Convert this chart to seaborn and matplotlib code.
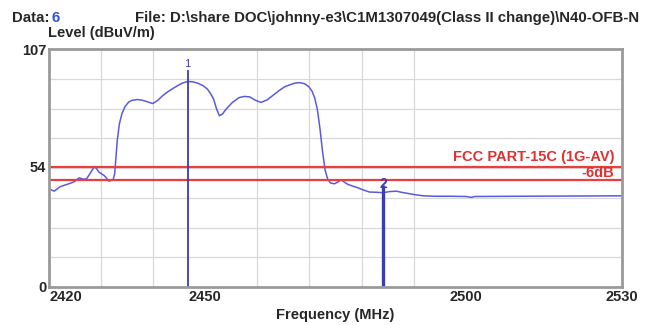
import numpy as np
import pandas as pd
import matplotlib
matplotlib.use("Agg")
import matplotlib.pyplot as plt
import seaborn as sns

# trace
freq = [2420.0, 2421.0, 2422.2, 2423.0, 2423.8, 2424.8, 2425.8, 2426.5, 2427.2, 2428.0,
        2428.7, 2429.2, 2429.6, 2430.6, 2431.5, 2432.3, 2432.6, 2432.8, 2433.1, 2433.5,
        2434.0, 2434.6, 2435.3, 2436.0, 2437.0, 2437.9, 2439.0, 2439.9, 2440.8, 2441.8,
        2442.8, 2443.8, 2444.8, 2445.7, 2446.6, 2447.6, 2448.6, 2449.6, 2450.4, 2451.0,
        2451.6, 2452.1, 2452.7, 2453.3, 2454.0, 2455.2, 2456.5, 2457.5, 2458.5, 2459.6,
        2460.7, 2461.9, 2463.0, 2464.2, 2465.2, 2466.2, 2467.2, 2468.1, 2469.1, 2469.9,
        2470.5, 2471.0, 2471.5, 2472.0, 2472.5, 2473.0, 2473.5, 2474.0, 2474.8, 2475.5,
        2476.1, 2476.8, 2477.4, 2478.4, 2479.3, 2480.4, 2481.5, 2482.8, 2484.1, 2485.4,
        2486.7, 2487.6, 2488.6, 2490.0, 2491.8, 2494.0, 2497.0, 2500.1, 2501.0, 2501.8,
        2510.0, 2520.0, 2530.0]
level = [44.2, 43.1, 45.2, 45.8, 46.4, 47.3, 49.1, 48.5, 48.6, 51.5,
         54.2, 53.0, 51.6, 50.1, 47.6, 48.2, 51.0, 56.9, 66.0, 73.3,
         78.0, 81.2, 83.2, 84.0, 84.3, 84.0, 83.2, 82.5, 83.8, 86.0,
         87.8, 89.3, 90.7, 91.8, 92.4, 92.3, 91.6, 90.5, 89.0, 87.0,
         84.5, 80.5, 77.0, 77.8, 80.0, 83.0, 85.2, 85.7, 85.5, 84.0,
         83.0, 84.2, 86.2, 88.4, 90.0, 90.9, 91.7, 91.9, 91.4, 90.0,
         88.0, 85.0, 80.0, 71.5, 61.0, 52.5, 48.5, 46.8, 46.4, 47.3,
         48.2, 47.0, 46.1, 45.3, 44.6, 43.6, 42.7, 42.6, 42.4, 42.9,
         43.1, 42.6, 42.2, 41.6, 41.0, 40.8, 40.8, 40.7, 40.3, 40.7,
         40.8, 40.9, 41.0]

limit_name = "FCC PART-15C (1G-AV)"
limit_level = 54
margin_level = 48

marker_freq = [2446.6, 2484.1]
marker_top = [97.5, 46.0]
marker_names = ["1", "2"]

x_labels = [2420, 2450, 2500, 2530]
x_grid = [2430, 2440, 2450, 2460, 2470, 2480, 2490, 2500]
y_labels = [0, 54, 107]
y_grid = [107 / 8 * i for i in range(1, 8)]

df = pd.DataFrame({"Frequency": freq, "Level": level})

sns.set_style("white")
plt.rcParams["font.family"] = ["Liberation Sans", "DejaVu Sans"]

fig = plt.figure(figsize=(6.46, 3.25), dpi=100)
ax = fig.add_axes([0.0759, 0.117, 0.887, 0.732])

sns.lineplot(data=df, x="Frequency", y="Level", ax=ax, color="#5a5ae0", linewidth=1.1)

# limit lines
ax.axhline(limit_level, color="#e84040", linewidth=1.6)
ax.axhline(margin_level, color="#e84040", linewidth=1.6)
ax.text(2528.5, limit_level + 1.2, limit_name, color="#e03030", fontsize=10.5,
        fontweight="bold", ha="right", va="bottom")
ax.text(2528.5, limit_level + 0.3, "-6dB", color="#e03030", fontsize=10.5,
        fontweight="bold", ha="right", va="top")

# markers
ax.vlines(marker_freq[0], 0, marker_top[0], color="#3c3cb0", linewidth=1.3)
ax.vlines(marker_freq[1], 0, marker_top[1], color="#3c3cb0", linewidth=2.4)
ax.text(marker_freq[0], marker_top[0] + 0.5, marker_names[0], color="#3c3cb0",
        fontsize=8, ha="center", va="bottom")
ax.text(marker_freq[1], marker_top[1] - 3.0, marker_names[1], color="#3c3cb0",
        fontsize=10, fontweight="bold", ha="center", va="bottom")

ax.set_xlim(2420, 2530)
ax.set_ylim(0, 107)

ax.set_xticks(x_labels)
ax.set_xticklabels([str(v) for v in x_labels], fontsize=10.5, fontweight="bold")
ax.get_xticklabels()[0].set_horizontalalignment("left")
ax.set_xticks(x_grid, minor=True)
ax.set_yticks(y_labels)
ax.set_yticklabels([str(v) for v in y_labels], fontsize=10.5, fontweight="bold")
ax.set_yticks(y_grid, minor=True)
ax.tick_params(axis="both", which="both", length=0, pad=2)
ax.grid(False)
ax.grid(True, which="minor", color="#d8d8d8", linewidth=0.9)
ax.set_axisbelow(True)

for s in ax.spines.values():
    s.set_color("#9a9a9a")
    s.set_linewidth(2)

ax.set_xlabel("Frequency (MHz)", fontsize=10.5, fontweight="bold", labelpad=3)
ax.set_ylabel("")

# header texts
fig.text(12 / 646, 1 - 18 / 325, "Data:", fontsize=10.8, fontweight="bold", va="center")
fig.text(52 / 646, 1 - 18 / 325, "6", fontsize=10.8, fontweight="bold", color="#3050e0", va="center")
fig.text(135 / 646, 1 - 18 / 325,
         "File: D:\\share DOC\\johnny-e3\\C1M1307049(Class II change)\\N40-OFB-N",
         fontsize=10.8, fontweight="bold", va="center")
fig.text(48 / 646, 1 - 33 / 325, "Level (dBuV/m)", fontsize=10.5, fontweight="bold", va="center")

fig.savefig("out.png", dpi=100)
